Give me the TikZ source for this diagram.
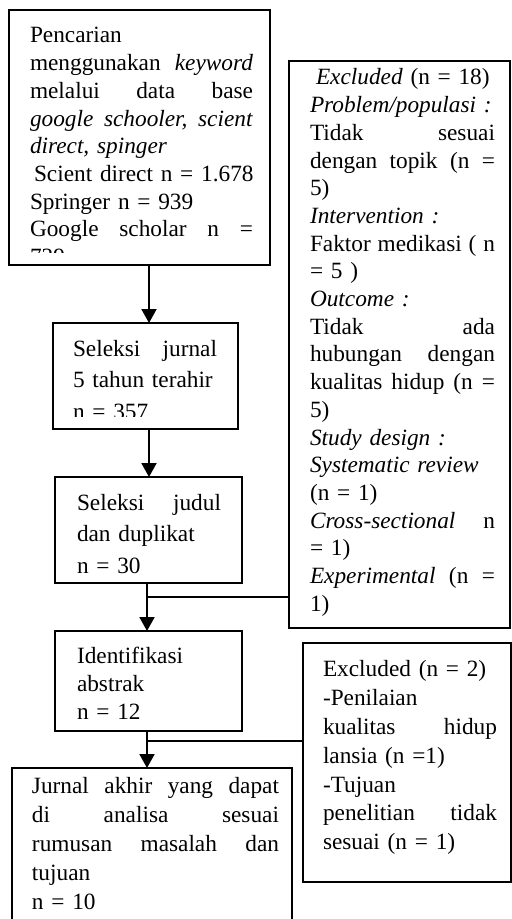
\documentclass[tikz,border=0pt]{standalone}
\usepackage{fontspec}
\setmainfont{Liberation Serif}
\usetikzlibrary{arrows.meta}
\newcommand{\jl}[2]{\leavevmode\hbox to #1{#2}}
\begin{document}
\begin{tikzpicture}[x=0.5pt,y=-0.5pt,
  box/.style={draw, line width=0.8pt, inner sep=0pt, outer sep=0pt, anchor=north west},
  txt/.style={anchor=north west, inner sep=0pt, outer sep=0pt, align=left, font=\fontsize{11.65}{13.85}\selectfont},
  widetxt/.style={txt, font=\fontsize{11.65}{15.75}\selectfont},
  midtxt/.style={txt, font=\fontsize{11.65}{14.4}\selectfont},
  lowtxt/.style={txt, font=\fontsize{11.65}{14.5}\selectfont},
  arr/.style={line width=1pt, -{Triangle[width=7.5pt,length=7pt]}},
  branch/.style={line width=0.65pt}]
\useasboundingbox (0,0) rectangle (512,919);
\clip (0,0) rectangle (512,919);

% boxes
\node[box, minimum width={261*0.5pt}, minimum height={255*0.5pt}] (b1) at (9,10) {};
\node[box, minimum width={185*0.5pt}, minimum height={106*0.5pt}] (b2) at (53,323) {};
\node[box, minimum width={187*0.5pt}, minimum height={106*0.5pt}] (b3) at (55,477) {};
\node[box, minimum width={187*0.5pt}, minimum height={100*0.5pt}] (b4) at (55,631) {};
\node[box, minimum width={280*0.5pt}, minimum height={200*0.5pt}] (b5) at (12,768) {};
\node[box, minimum width={221*0.5pt}, minimum height={567*0.5pt}] (e1) at (289,61) {};
\node[box, minimum width={208*0.5pt}, minimum height={239*0.5pt}] (e2) at (303,643) {};

% texts
\begin{scope}
\clip (9,10) rectangle (270,253);
\node[txt, text width=112pt] (t1) at (30,23.6) {\strut Pencarian\\
\jl{111.5pt}{menggunakan\hfill\textit{keyword}}\\
\jl{111.5pt}{melalui\hfill data\hfill base}\\
\jl{111.5pt}{\textit{google\hfill schooler,\hfill scient}}\\
\mbox{\textit{direct, spinger}}\\
\mbox{\hspace*{2pt}Scient direct n = 1.678}\\
\mbox{Springer n = 939}\\
\jl{111.5pt}{Google\hfill scholar\hfill n\hfill =}\\
729};
\end{scope}

\begin{scope}
\clip (53,323) rectangle (238,416);
\node[widetxt, text width=73pt] (t2) at (73,334) {\strut\jl{72pt}{Seleksi\hfill jurnal}\\
\mbox{5 tahun terahir}\\
n = 357};
\end{scope}

\node[widetxt, text width=73pt] (t3) at (77,488) {\strut\jl{72pt}{Seleksi\hfill judul}\\
\mbox{dan duplikat}\\
n = 30};

\node[txt, text width=72pt] (t4) at (77,644.6) {\strut Identifikasi\\
abstrak\\
n = 12};

\node[lowtxt, text width=124pt] (t5) at (32,772.7) {\strut\jl{123.5pt}{Jurnal\hfill akhir\hfill yang\hfill dapat}\\
\jl{123.5pt}{di\hfill analisa\hfill sesuai}\\
\jl{123.5pt}{rumusan\hfill masalah\hfill dan}\\
tujuan\\
n = 10};

\node[txt, text width=94pt] (t6) at (310,65.6) {\strut\mbox{\hspace*{3pt}\textit{Excluded} (n = 18)}\\
\mbox{\textit{Problem/populasi :}}\\
\jl{92.5pt}{Tidak\hfill sesuai}\\
\jl{92.5pt}{dengan\hfill topik\hfill (n\hfill =}\\
5)\\
\mbox{\textit{Intervention :}}\\
\jl{92.5pt}{Faktor\hfill medikasi\hfill (\hfill n}\\
= 5 )\\
\mbox{\textit{Outcome :}}\\
\jl{92.5pt}{Tidak\hfill ada}\\
\jl{92.5pt}{hubungan\hfill dengan}\\
\jl{92.5pt}{kualitas\hfill hidup\hfill (n\hfill =}\\
5)\\
\mbox{\textit{Study design :}}\\
\mbox{\textit{Systematic review}}\\
(n = 1)\\
\jl{92.5pt}{\textit{Cross-sectional}\hfill n}\\
= 1)\\
\jl{92.5pt}{\textit{Experimental}\hfill (n\hfill =}\\
1)};

\node[midtxt, text width=88pt] (t7) at (323,656.8) {\strut\mbox{Excluded (n = 2)}\\
-Penilaian\\
\jl{87pt}{kualitas\hfill hidup}\\
\mbox{lansia (n =1)}\\
-Tujuan\\
\jl{87pt}{penelitian\hfill tidak}\\
\mbox{sesuai (n = 1)}};

% connectors
\coordinate (c1) at (149,0);
\coordinate (c3) at (147,0);
\coordinate (j1) at (147,597);
\coordinate (j2) at (147,741);
\draw[arr] (b1.south -| c1) -- (b2.north -| c1);
\draw[arr] (b2.south -| c1) -- (b3.north -| c1);
\draw[arr] (b3.south -| c3) -- (b4.north -| c3);
\draw[arr] (b4.south -| c3) -- (b5.north -| c3);
\draw[branch] (j1) -- (j1 -| e1.west);
\draw[branch] (j2) -- (j2 -| e2.west);
\end{tikzpicture}
\end{document}
